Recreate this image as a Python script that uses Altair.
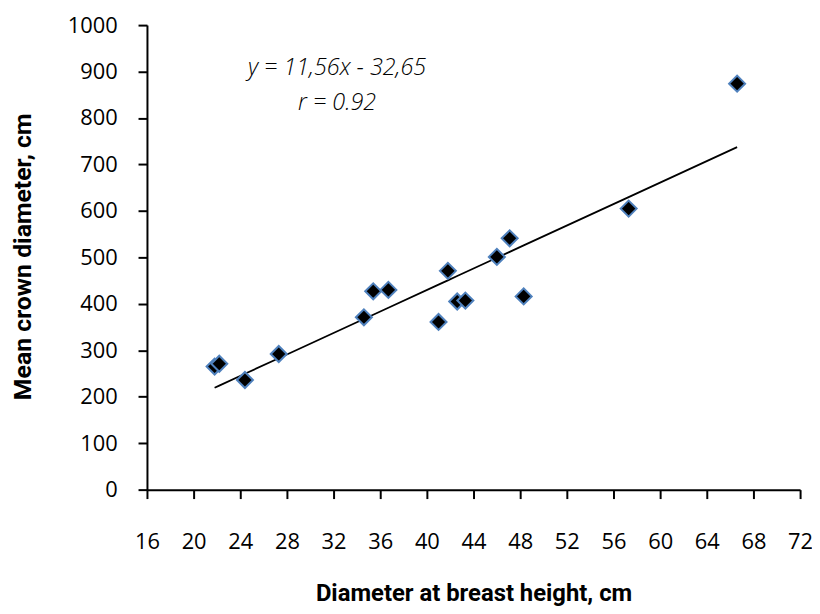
import altair as alt
import pandas as pd

dbh = [21.8, 22.2, 24.4, 27.3, 34.6, 35.4, 36.7, 41.0, 41.8, 42.6, 43.3, 46.0, 47.1, 48.3, 57.3, 66.6]
crown = [265, 271, 236, 292, 371, 427, 430, 361, 471, 405, 407, 501, 541, 416, 605, 874]

slope = 11.56
intercept = -32.65
eq_lines = ["y = 11,56x - 32,65", "r = 0.92"]
eq_x = [32.3, 32.3]
eq_y = [908, 833]

df = pd.DataFrame({"x": dbh, "y": crown})
ann = pd.DataFrame({"x": eq_x, "y": eq_y, "t": eq_lines})

FONT = "Open Sans"
TFONT = "Roboto"

xs = alt.Scale(domain=[16, 72], nice=False, zero=False)
ys = alt.Scale(domain=[0, 1000], nice=False)

xaxis = alt.Axis(
    title="Diameter at breast height, cm",
    values=list(range(16, 73, 4)), format="d", labelFlush=False, labelOverlap=False,
    grid=False, domainColor="black", domainWidth=2, tickColor="black", tickWidth=2,
    tickSize=9, labelPadding=33, labelFontSize=22, labelFont=FONT, labelColor="black",
    titleFont=TFONT, titleFontSize=24, titleFontWeight="bold", titleColor="black",
    titleY=112, titleBaseline="alphabetic",
)
yaxis = alt.Axis(
    title="Mean crown diameter, cm",
    values=list(range(0, 1001, 100)), format="d", labelFlush=False, labelOverlap=False,
    grid=False, domainColor="black", domainWidth=2, tickColor="black", tickWidth=2,
    tickSize=9, labelPadding=21, labelFontSize=22, labelFont=FONT, labelColor="black",
    titleFont=TFONT, titleFontSize=25, titleFontWeight="bold", titleColor="black",
    titleX=-125, titleY=233, titleAngle=-90, titleAlign="center", titleBaseline="middle",
)

base = alt.Chart(df)

line = base.transform_calculate(
    fit=f"{slope}*datum.x + ({intercept})"
).mark_line(color="black", strokeWidth=1.8).encode(
    x=alt.X("x:Q", scale=xs, axis=xaxis),
    y=alt.Y("fit:Q", scale=ys, axis=yaxis),
    order="x:Q",
)

pts = base.mark_point(
    shape="diamond", filled=True, fill="black", stroke="#4f81bd", strokeWidth=2,
    size=260, opacity=1,
).encode(
    x=alt.X("x:Q", scale=xs),
    y=alt.Y("y:Q", scale=ys),
)

txt = alt.Chart(ann).mark_text(
    font="Open Sans", fontStyle="italic", fontWeight=300, fontSize=23.5, color="black",
    align="center", baseline="middle"
).encode(
    x=alt.X("x:Q", scale=xs),
    y=alt.Y("y:Q", scale=ys),
    text="t:N",
)

chart = alt.layer(line, pts, txt).properties(
    width=658, height=468,
    padding={"left": 140, "top": 15, "right": 12, "bottom": 115},
    autosize="none",
).configure_view(stroke=None)

chart.save("out.html", embed_options={"renderer": "svg", "actions": False})
